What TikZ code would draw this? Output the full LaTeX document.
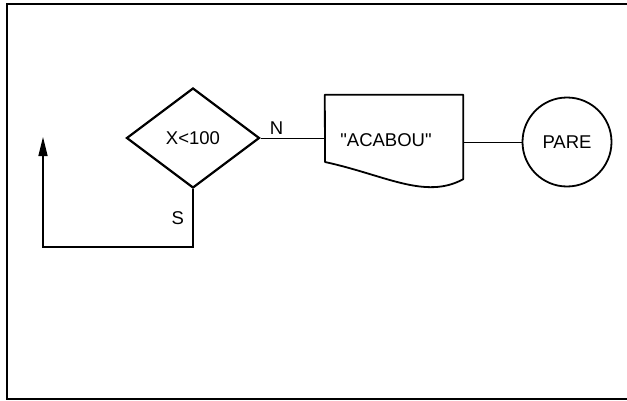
\documentclass[tikz,border=0pt]{standalone}
\usepackage{fontspec}
\setmainfont{Liberation Sans}
\usetikzlibrary{shapes.geometric,arrows.meta}
\tikzset{
  decision/.style={diamond,draw,line width=2.2pt,inner sep=0pt,minimum width=133pt,minimum height=100pt},
  docbox/.style={rectangle,inner sep=0pt,minimum width=138pt,minimum height=84pt},
  docline/.style={line width=1.8pt,line join=round},
  terminal/.style={circle,draw,line width=1.8pt,inner sep=0pt,minimum size=89pt},
  flow/.style={line width=1pt},
  loopback/.style={line width=1.4pt,-{Triangle[length=19pt,width=9pt]}},
  frame/.style={line width=2pt}
}

\begin{document}
\begin{tikzpicture}[x=1pt,y=1pt,every node/.style={font=\fontsize{18.5}{22}\selectfont}]
  \useasboundingbox (0,0) rectangle (627,400);
  \draw[frame] (627,395.5) -- (6.5,395.5) -- (6.5,1) -- (627,1);
  \node[decision] (cond) at (193,262) {X<100};
  \node[docbox] (msg) at (394,263) {};
  \draw[docline] (msg.north west) -- (msg.north east) -- (msg.south east)
    .. controls (425,200) and (385,225) .. (325,238) -- cycle;
  \node (msgtext) at (386,260) {\textquotedbl ACABOU\textquotedbl};
  \node[terminal] (stop) at (567,258) {PARE};
  \coordinate (turn) at (43,153);
  \coordinate (back) at (43,263);
  \draw[flow] (cond.east) -- node[above,pos=0.25] {N} (cond.east -| msg.west);
  \draw[flow] (stop.west -| msg.east) -- (stop.west);
  \draw[loopback] (cond.south) |- node[left=5pt,pos=0.25] {S} (turn) -- (back);
\end{tikzpicture}
\end{document}
